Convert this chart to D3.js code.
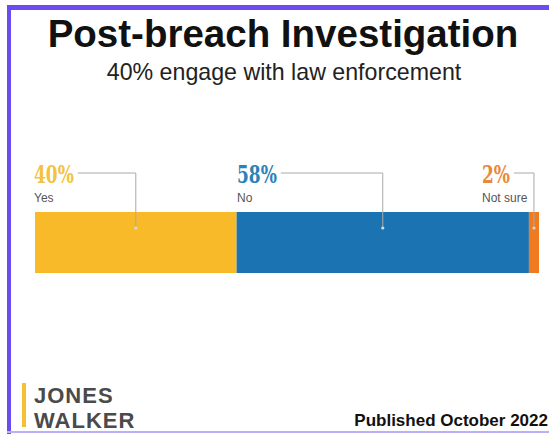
<!DOCTYPE html>
<html><head><meta charset="utf-8">
<script src="https://cdn.jsdelivr.net/npm/d3@7"></script>
<style>body{margin:0;background:#fff;}svg{display:block;}</style>
</head><body>
<script>
const categories = ["Yes", "No", "Not sure"];
const values = [40, 58, 2];
const valueLabels = ["40%", "58%", "2%"];
const barColors = ["#F9BA2A", "#1B74B1", "#EF7A1F"];
const labelColors = ["#F3C23E", "#2B82B8", "#E8893A"];
const title = "Post-breach Investigation";
const subtitle = "40% engage with law enforcement";
const footer = "Published October 2022";

const W = 549, H = 434;
const svg = d3.select("body").append("svg").attr("width", W).attr("height", H);

// frame
svg.append("rect").attr("x", 0).attr("y", 0).attr("width", W).attr("height", H).attr("fill", "#fff");
svg.append("rect").attr("x", 7).attr("y", 5).attr("width", 4).attr("height", H - 5).attr("fill", "#6A4CF0");
svg.append("rect").attr("x", 7).attr("y", 5).attr("width", W - 7).attr("height", 5).attr("fill", "#6A4CF0");
svg.append("rect").attr("x", 7).attr("y", 431).attr("width", W - 7).attr("height", 2).attr("fill", "#B9B0F5");

svg.append("text").attr("x", 283).attr("y", 47).attr("text-anchor", "middle")
  .attr("font-family", "Liberation Sans, Arial, sans-serif").attr("font-weight", "bold")
  .attr("font-size", 38.5).attr("fill", "#111").text(title);
svg.append("text").attr("x", 284).attr("y", 80).attr("text-anchor", "middle")
  .attr("font-family", "Liberation Sans, Arial, sans-serif")
  .attr("font-size", 23.2).attr("fill", "#222").text(subtitle);

// bar
const x = d3.scaleLinear().domain([0, d3.sum(values)]).range([35, 539]);
const barY = 212, barH = 61;
let cum = 0;
const segs = values.map((v, i) => { const s = {i, v, x0: cum, x1: cum + v}; cum += v; return s; });

svg.selectAll("rect.seg").data(segs).enter().append("rect").attr("class", "seg")
  .attr("x", d => x(d.x0)).attr("y", barY)
  .attr("width", d => x(d.x1) - x(d.x0)).attr("height", barH)
  .attr("fill", d => barColors[d.i]);

const labelX = [34, 237, 482];
const lineY = 173;
const sx = 0.68;
segs.forEach((d, i) => {
  const g = svg.append("g");
  const tg = g.append("g").attr("transform", `translate(${labelX[i]},183) scale(${sx},1)`);
  const t = tg.append("text").attr("x", 0).attr("y", 0)
    .attr("font-family", "DejaVu Serif, serif").attr("font-weight", "bold")
    .attr("font-size", 25).attr("fill", labelColors[i]).text(valueLabels[i]);
  g.append("text").attr("x", labelX[i]).attr("y", 202)
    .attr("font-family", "Liberation Sans Narrow, Liberation Sans, sans-serif")
    .attr("font-size", 12).attr("fill", "#555").text(categories[i]);
  const tw = t.node().getComputedTextLength() * sx;
  const mid = (x(d.x0) + x(d.x1)) / 2;
  g.append("path").attr("d", `M${labelX[i] + tw + 4},${lineY}H${mid}V${228}`)
    .attr("fill", "none").attr("stroke", "#AAAAAA").attr("stroke-width", 1);
  g.append("circle").attr("cx", mid).attr("cy", 228).attr("r", 1.6).attr("fill", "#D8D8D8");
});

// logo
svg.append("rect").attr("x", 22).attr("y", 383).attr("width", 4).attr("height", 44).attr("fill", "#F6C033");
svg.append("text").attr("x", 34).attr("y", 403).attr("font-family", "Liberation Sans, Arial, sans-serif")
  .attr("font-weight", "bold").attr("font-size", 22).attr("letter-spacing", 1).attr("fill", "#4A4A4A").text("JONES");
svg.append("text").attr("x", 34).attr("y", 428).attr("font-family", "Liberation Sans, Arial, sans-serif")
  .attr("font-weight", "bold").attr("font-size", 22).attr("letter-spacing", 1).attr("fill", "#4A4A4A").text("WALKER");

svg.append("text").attr("x", 548).attr("y", 426).attr("text-anchor", "end")
  .attr("font-family", "Liberation Sans, Arial, sans-serif").attr("font-weight", "bold")
  .attr("font-size", 17).attr("fill", "#111").text(footer);
</script>
</body></html>
